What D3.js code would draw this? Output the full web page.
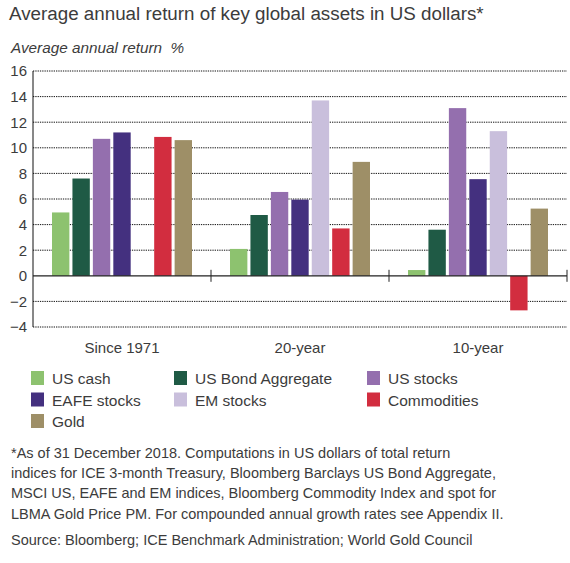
<!DOCTYPE html>
<html>
<head>
<meta charset="utf-8">
<script src="https://cdn.jsdelivr.net/npm/d3@7"></script>
<style>
body { margin: 0; background: #fff; }
text { font-family: "Liberation Sans", Arial, sans-serif; fill: #3c3c3c; }
</style>
</head>
<body>
<script>
var w = 570;
var h = 563;

// data
var periods = ["Since 1971", "20-year", "10-year"];
var assets = ["US cash", "US Bond Aggregate", "US stocks", "EAFE stocks", "EM stocks", "Commodities", "Gold"];
var usCash = [4.95, 2.1, 0.45];
var usBond = [7.6, 4.75, 3.6];
var usStocks = [10.7, 6.55, 13.1];
var eafeStocks = [11.2, 5.95, 7.55];
var emStocks = [null, 13.7, 11.3];
var commodities = [10.85, 3.7, -2.7];
var gold = [10.6, 8.9, 5.25];
var colors = ["#8dc26f", "#1f5a45", "#946fae", "#44307f", "#c9bfdc", "#d22d3f", "#9e8f67"];
var yTicks = [-4, -2, 0, 2, 4, 6, 8, 10, 12, 14, 16];

var series = [usCash, usBond, usStocks, eafeStocks, emStocks, commodities, gold];

var pLeft = 33, pRight = 567, pTop = 71, pBottom = 327;

var svg = d3.select("body").append("svg")
    .attr("width", w)
    .attr("height", h);

svg.append("text")
    .attr("x", 9).attr("y", 20)
    .attr("font-size", "18.8px")
    .text("Average annual return of key global assets in US dollars*");

svg.append("text")
    .attr("x", 11).attr("y", 53)
    .attr("font-size", "15.3px")
    .attr("font-style", "italic")
    .attr("xml:space", "preserve")
    .text("Average annual return  %");

var yScale = d3.scaleLinear().domain([-4, 16]).range([pBottom, pTop]);
var x0 = d3.scaleBand().domain(periods).range([pLeft, pRight]);
var x1 = d3.scaleBand().domain(assets).range([0, x0.bandwidth()])
    .paddingInner(0.15).paddingOuter(0.93);
var color = d3.scaleOrdinal().domain(assets).range(colors);

// dotted grid
svg.append("g")
    .selectAll("line")
    .data(yTicks.filter(function(d) { return d != 0; }))
    .enter().append("line")
    .attr("x1", pLeft).attr("x2", pRight)
    .attr("y1", function(d) { return yScale(d); })
    .attr("y2", function(d) { return yScale(d); })
    .attr("stroke", "#111")
    .attr("stroke-width", 1)
    .attr("stroke-dasharray", "1.3,1");

// bars
var groups = svg.append("g")
    .selectAll("g")
    .data(periods)
    .enter().append("g")
    .attr("transform", function(p) { return "translate(" + x0(p) + ",0)"; });

groups.selectAll("rect")
    .data(function(p, i) {
        return assets.map(function(a, j) { return { asset: a, value: series[j][i] }; })
            .filter(function(d) { return d.value != null; });
    })
    .enter().append("rect")
    .attr("x", function(d) { return x1(d.asset); })
    .attr("width", x1.bandwidth())
    .attr("y", function(d) { return yScale(Math.max(0, d.value)); })
    .attr("height", function(d) { return Math.abs(yScale(d.value) - yScale(0)); })
    .attr("fill", function(d) { return color(d.asset); });

// y axis
var yAxis = d3.axisLeft(yScale).tickValues(yTicks).tickSize(0).tickPadding(6);
var gy = svg.append("g")
    .attr("transform", "translate(" + pLeft + ",0)")
    .call(yAxis);
gy.select(".domain").attr("stroke", "#111").attr("d", "M0," + pTop + "V" + pBottom);
gy.selectAll(".tick text")
    .attr("font-size", "15px")
    .attr("font-family", "Liberation Sans, Arial, sans-serif")
    .attr("fill", "#3c3c3c");

// zero line + group separators
svg.append("line")
    .attr("x1", pLeft).attr("x2", pRight)
    .attr("y1", yScale(0)).attr("y2", yScale(0))
    .attr("stroke", "#222").attr("stroke-width", 1.2);

svg.append("g")
    .selectAll("line")
    .data(periods)
    .enter().append("line")
    .attr("x1", function(p) { return x0(p) + x0.bandwidth(); })
    .attr("x2", function(p) { return x0(p) + x0.bandwidth(); })
    .attr("y1", yScale(0) - 6).attr("y2", yScale(0) + 6)
    .attr("stroke", "#222");

// category labels
svg.append("g")
    .selectAll("text")
    .data(periods)
    .enter().append("text")
    .attr("x", function(p) { return x0(p) + x0.bandwidth() / 2; })
    .attr("y", 353)
    .attr("text-anchor", "middle")
    .attr("font-size", "15px")
    .text(function(p) { return p; });

// legend
var legX = [31, 174, 367];
var legend = svg.append("g")
    .selectAll("g")
    .data(assets)
    .enter().append("g")
    .attr("transform", function(d, i) {
        return "translate(" + legX[i % 3] + "," + (371 + Math.floor(i / 3) * 21.5) + ")";
    });
legend.append("rect")
    .attr("width", 13).attr("height", 14)
    .attr("fill", function(d) { return color(d); });
legend.append("text")
    .attr("x", 21).attr("y", 13)
    .attr("font-size", "15.5px")
    .text(function(d) { return d; });

// notes
var notes = [
    "*As of 31 December 2018. Computations in US dollars of total return",
    "indices for ICE 3-month Treasury, Bloomberg Barclays US Bond Aggregate,",
    "MSCI US, EAFE and EM indices, Bloomberg Commodity Index and spot for",
    "LBMA Gold Price PM. For compounded annual growth rates see Appendix II."
];
svg.append("g")
    .selectAll("text")
    .data(notes)
    .enter().append("text")
    .attr("x", 11)
    .attr("y", function(d, i) { return 458 + i * 20.2; })
    .attr("font-size", "14.5px")
    .text(function(d) { return d; });

svg.append("text")
    .attr("x", 11).attr("y", 545)
    .attr("font-size", "14.5px")
    .text("Source: Bloomberg; ICE Benchmark Administration; World Gold Council");
</script>
</body>
</html>
